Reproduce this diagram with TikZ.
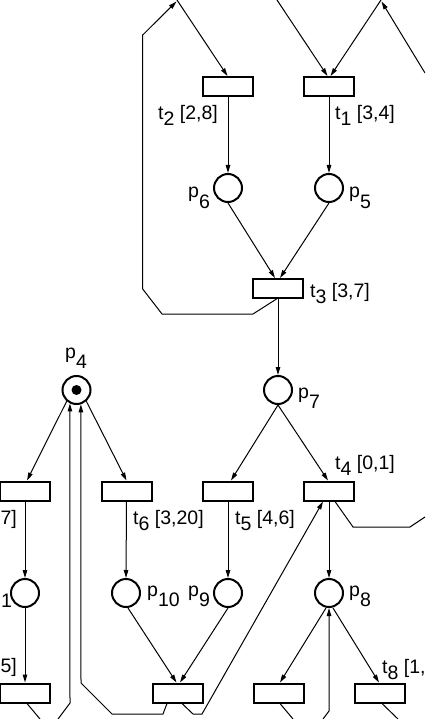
\documentclass[tikz,border=0pt]{standalone}
\usepackage{fontspec}
\setmainfont{Liberation Sans}
\usetikzlibrary{arrows.meta}
\newcommand{\tsub}[1]{\raisebox{-6pt}{#1}}
\newcommand{\psub}[1]{\raisebox{-10pt}{#1}}
\tikzset{
  trans/.style={draw, line width=2pt, minimum width=50pt, minimum height=19pt, inner sep=0pt, fill=white},
  place/.style={draw, circle, line width=2pt, minimum size=28pt, inner sep=0pt},
  arc/.style={line width=1pt, -{Triangle[length=8pt,width=4.5pt]}},
  wire/.style={line width=1pt},
  lab/.style={anchor=base west, inner sep=0pt, font=\fontsize{19.5}{19.5}\selectfont},
  labr/.style={anchor=base east, inner sep=0pt, font=\fontsize{19.5}{19.5}\selectfont},
}
\begin{document}
\begin{tikzpicture}[x=1pt,y=-1pt]
\useasboundingbox (0,0) rectangle (425,719);
\clip (0,0) rectangle (425,719);
% transitions
\node[trans] (t2) at (228,86.5) {};
\node[trans] (t1) at (329,86.5) {};
\node[trans] (t3) at (278,288.5) {};
\node[trans] (lt) at (25,491) {};
\node[trans] (t6) at (126.5,491) {};
\node[trans] (t5) at (228,491) {};
\node[trans] (t4) at (329,491) {};
\node[trans] (blt) at (25,693) {};
\node[trans] (bc) at (177.5,693) {};
\node[trans] (b3) at (278.5,693) {};
\node[trans] (t8) at (380,693) {};
% places
\node[place] (p6) at (228,188) {};
\node[place] (p5) at (329,188) {};
\node[place] (p4) at (76.5,390) {};
\node[fill, circle, minimum size=10pt, inner sep=0pt] (tok) at (p4) {};
\node[place] (p7) at (278,390) {};
\node[place] (lp) at (25,593) {};
\node[place] (p10) at (126,593) {};
\node[place] (p9) at (228,593) {};
\node[place] (p8) at (329,593) {};
% off-page ends
\coordinate (ua) at (177,0);
\coordinate (ua2) at (176.5,1.5);
\coordinate (ub) at (277,0);
\coordinate (uc) at (381,0);
\coordinate (uc2) at (381.5,1.5);
\coordinate (rtop) at (425,73);
\coordinate (rmid) at (425,517);
\coordinate (bl1) at (58,719);
\coordinate (bl2) at (40,719);
\coordinate (bp8) at (323,719);
\coordinate (bb3) at (293,719);
\coordinate (bt8) at (398,719);
% arcs
\draw[arc] (ua) -- ([xshift=-0.5pt]t2.north);
\draw[arc] ([xshift=-1.5pt]t3.south) -- (253,314) -- (162,314) -- (142.7,289) -- (142.7,35) -- (ua2);
\draw[arc] (ub) -- ([xshift=-1.5pt]t1.north);
\draw[arc] (uc) -- ([xshift=1.5pt]t1.north);
\draw[arc] (rtop) -- (uc2);
\draw[arc] (t2.south) -- (p6.north);
\draw[arc] (t1.south) -- (p5.north);
\draw[arc] (p6.south) -- ([xshift=-3pt]t3.north);
\draw[arc] (p5.south) -- ([xshift=2pt]t3.north);
\draw[arc] (t3.south) -- (p7.north);
\draw[arc] (p7.south) -- ([xshift=3pt]t5.north);
\draw[arc] (p7.south) -- ([xshift=-1pt]t4.north);
\draw[arc] (p4.-131) -- ([xshift=2pt]lt.north);
\draw[arc] (p4.-49) -- (t6.north);
\draw[arc] (bl1) -- (70,703) -- (p4.-116);
\draw[arc] ([xshift=-10.5pt]bc.south) -- (163,714) -- (112,714) -- (81,683) -- (p4.-73);
\draw[arc] ([xshift=4.5pt]bc.south) -- (193,714) -- (202,714) -- ([xshift=-6pt]t4.south);
\draw[arc] ([xshift=2pt]p10.south) -- ([xshift=-1pt]bc.north);
\draw[arc] (p9.south) -- ([xshift=2.5pt]bc.north);
\draw[arc] (t6.south) -- (p10.north);
\draw[arc] (t5.south) -- (p9.north);
\draw[arc] (lt.south) -- (lp.north);
\draw[arc] (lp.south) -- (blt.north);
\draw[wire] ([xshift=2pt]blt.south) -- (bl2);
\draw[arc] (t4.south) -- (p8.north);
\draw[wire] ([xshift=6pt]t4.south) -- (353,527) -- (410,527) -- (rmid);
\draw[arc] ([xshift=-3pt]p8.south) -- ([xshift=1.5pt]b3.north);
\draw[arc] ([xshift=4pt]p8.south) -- ([xshift=-1pt]t8.north);
\draw[arc] (bp8) -- (329,711) -- (p8.south);
\draw[wire] ([xshift=1.5pt]b3.south) -- (bb3);
\draw[wire] ([xshift=2pt]t8.south) -- (bt8);
% labels
\node[lab] (lt2) at (158,120) {t\tsub{2} [2,8]};
\node[lab] (lt1) at (335,120) {t\tsub{1} [3,4]};
\node[lab] (lt3) at (310,297) {t\tsub{3} [3,7]};
\node[lab] (lt4) at (335,469) {t\tsub{4} [0,1]};
\node[lab] (lt6) at (133,524) {t\tsub{6} [3,20]};
\node[lab] (lt5) at (235,524) {t\tsub{5} [4,6]};
\node[lab] (lt8) at (382,673) {t\tsub{8} [1,};
\node[labr] (llt) at (17,524) {7]};
\node[labr] (lblt) at (17,672) {5]};
\node[lab] (llp) at (1,607) {1};
\node[lab] (lp6) at (188,198) {p\psub{6}};
\node[lab] (lp5) at (349,198) {p\psub{5}};
\node[lab] (lp4) at (65,358) {p\psub{4}};
\node[lab] (lp7) at (298,398) {p\psub{7}};
\node[lab] (lp10) at (147,596) {p\psub{10}};
\node[lab] (lp9) at (188,596) {p\psub{9}};
\node[lab] (lp8) at (349,596) {p\psub{8}};
\end{tikzpicture}
\end{document}
